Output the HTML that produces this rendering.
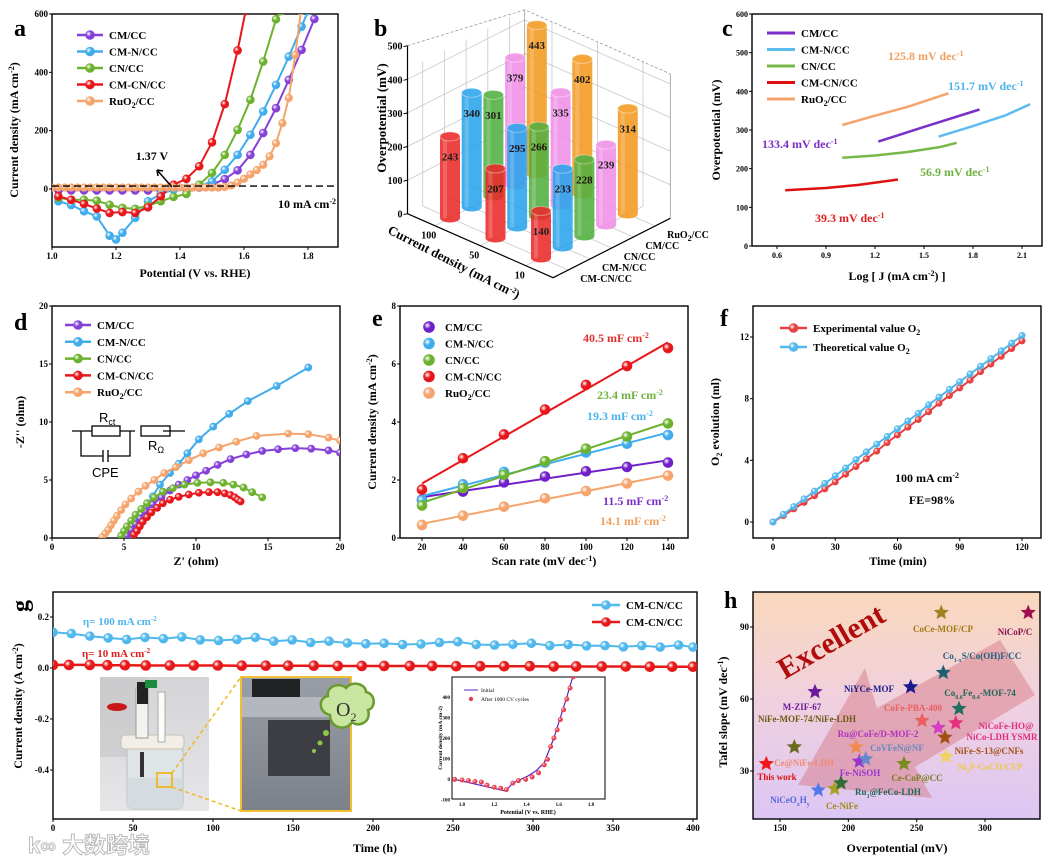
<!DOCTYPE html>
<html><head><meta charset="utf-8"><style>
html,body{margin:0;padding:0;background:#fff;}
svg{display:block;font-family:"Liberation Serif","Noto Serif CJK SC",serif;font-weight:bold;}
</style></head><body>
<svg id="fig" width="1055" height="859" viewBox="0 0 1055 859">
<defs>
<linearGradient id="hbg" x1="0" y1="0" x2="0" y2="1"><stop offset="0" stop-color="#f9d8bc"/><stop offset="0.5" stop-color="#f0d0e0"/><stop offset="1" stop-color="#dcc6f4"/></linearGradient>
<linearGradient id="ph1" x1="0" y1="0" x2="0" y2="1"><stop offset="0" stop-color="#d4d4d6"/><stop offset="1" stop-color="#e6e6e8"/></linearGradient>
<linearGradient id="ph2" x1="0" y1="0" x2="0" y2="1"><stop offset="0" stop-color="#9a9ea6"/><stop offset="1" stop-color="#7c8088"/></linearGradient>
<clipPath id="clipA"><rect x="52" y="14" width="286" height="233"/></clipPath>
<clipPath id="clipD"><rect x="52" y="306" width="288" height="232"/></clipPath>
<clipPath id="clipG"><rect x="53" y="592" width="644" height="227"/></clipPath>
<clipPath id="clipI"><rect x="452" y="677" width="153" height="122"/></clipPath>
</defs>

<text x="14" y="36" font-size="24">a</text>
<text x="374" y="36" font-size="24">b</text>
<text x="722" y="36" font-size="24">c</text>
<text x="14" y="330" font-size="24">d</text>
<text x="372" y="326" font-size="24">e</text>
<text x="720" y="326" font-size="24">f</text>
<text x="0" y="0" font-size="24" transform="translate(28,612) rotate(-90)">g</text>
<text x="724" y="608" font-size="24">h</text>

<text x="195" y="277" font-size="12" text-anchor="middle">Potential (V vs. RHE)</text>
<text transform="translate(18,130) rotate(-90)" font-size="12" text-anchor="middle">Current density (mA cm<tspan dy="-4" font-size="8">-2</tspan><tspan dy="4">)</tspan></text>
<text transform="translate(386,118) rotate(-90)" font-size="13" text-anchor="middle">Overpotential (mV)</text>
<text transform="translate(452,266) rotate(27)" font-size="13" text-anchor="middle">Current density (mA cm<tspan dy="-4" font-size="8">-2</tspan><tspan dy="4">)</tspan></text>
<text x="897" y="280" font-size="12" text-anchor="middle">Log [ J (mA cm<tspan dy="-4" font-size="8">-2</tspan><tspan dy="4">) ]</tspan></text>
<text transform="translate(720,130) rotate(-90)" font-size="12" text-anchor="middle">Overpotential (mV)</text>
<text x="196" y="565" font-size="12" text-anchor="middle">Z' (ohm)</text>
<text transform="translate(24,422) rotate(-90)" font-size="12" text-anchor="middle">-Z'' (ohm)</text>
<text x="544" y="565" font-size="12" text-anchor="middle">Scan rate (mV dec<tspan dy="-4" font-size="8">-1</tspan><tspan dy="4">)</tspan></text>
<text transform="translate(376,422) rotate(-90)" font-size="12" text-anchor="middle">Current density (mA cm<tspan dy="-4" font-size="8">-2</tspan><tspan dy="4">)</tspan></text>
<text x="898" y="565" font-size="12" text-anchor="middle">Time (min)</text>
<text transform="translate(719,422) rotate(-90)" font-size="12" text-anchor="middle">O<tspan dy="3" font-size="8">2</tspan><tspan dy="-3"> evolution (ml)</tspan></text>
<text x="375" y="852" font-size="12" text-anchor="middle">Time (h)</text>
<text transform="translate(22,706) rotate(-90)" font-size="12" text-anchor="middle">Current density (A cm<tspan dy="-4" font-size="8">-2</tspan><tspan dy="4">)</tspan></text>
<text x="897" y="852" font-size="12" text-anchor="middle">Overpotential (mV)</text>
<text transform="translate(727,712) rotate(-90)" font-size="12" text-anchor="middle">Tafel slope (mV dec<tspan dy="-4" font-size="8">-1</tspan><tspan dy="4">)</tspan></text>

<text x="152" y="160" font-size="12" text-anchor="middle">1.37 V</text>
<text x="336" y="208" font-size="12" text-anchor="end">10 mA cm<tspan dy="-4" font-size="8">-2</tspan></text>
<text x="888" y="60" font-size="12" fill="#f0a060">125.8 mV dec<tspan dy="-4" font-size="8">-1</tspan></text>
<text x="948" y="90" font-size="12" fill="#4cb4ec">151.7 mV dec<tspan dy="-4" font-size="8">-1</tspan></text>
<text x="762" y="148" font-size="12" fill="#7b2fc8">133.4 mV dec<tspan dy="-4" font-size="8">-1</tspan></text>
<text x="920" y="176" font-size="12" fill="#70b040">56.9 mV dec<tspan dy="-4" font-size="8">-1</tspan></text>
<text x="815" y="222" font-size="12" fill="#e02020">39.3 mV dec<tspan dy="-4" font-size="8">-1</tspan></text>
<text x="583" y="342" font-size="12" fill="#e03030">40.5 mF cm<tspan dy="-4" font-size="8">-2</tspan></text>
<text x="597" y="399" font-size="12" fill="#70b040">23.4 mF cm<tspan dy="-4" font-size="8">-2</tspan></text>
<text x="587" y="420" font-size="12" fill="#4cb4ec">19.3 mF cm<tspan dy="-4" font-size="8">-2</tspan></text>
<text x="603" y="505" font-size="12" fill="#7b2fc8">11.5 mF cm<tspan dy="-4" font-size="8">-2</tspan></text>
<text x="600" y="525" font-size="12" fill="#f0a060">14.1 mF cm<tspan dy="-4" font-size="8">-2</tspan></text>
<text x="927" y="482" font-size="12" text-anchor="middle">100 mA cm<tspan dy="-4" font-size="8">-2</tspan></text>
<text x="932" y="504" font-size="12" text-anchor="middle">FE=98%</text>
<text x="83" y="625" font-size="11" fill="#50b4ec">η= 100 mA cm<tspan dy="-4" font-size="7">-2</tspan></text>
<text x="82" y="657" font-size="11" fill="#e02020">η= 10 mA cm<tspan dy="-4" font-size="7">-2</tspan></text>

<g stroke="#000" stroke-width="1.3" fill="none">
<path d="M72,431 H92 M120,431 H135 M163,431 H185 M81,431 V456 H103 M108,456 H130 V431"/>
<rect x="92" y="426" width="28" height="10"/><rect x="141" y="426" width="29" height="10"/>
<path d="M103,450 V462 M108,450 V462"/>
</g>
<text x="99" y="422" font-family="Liberation Sans, sans-serif" font-size="13" font-weight="normal">R<tspan dy="3" font-size="9">ct</tspan></text>
<text x="148" y="450" font-family="Liberation Sans, sans-serif" font-size="13" font-weight="normal">R<tspan dy="3" font-size="9">Ω</tspan></text>
<text x="92" y="477" font-family="Liberation Sans, sans-serif" font-size="13" font-weight="normal">CPE</text>

<g id="root"></g>

<text x="28" y="853" font-size="22" fill="#fff" stroke="#bbb" stroke-width="1" font-family="Liberation Sans, Noto Sans CJK SC, sans-serif">k∞ 大数跨境</text>
</svg>
<script>
const aCMx=[1.02,1.06,1.10,1.14,1.18,1.22,1.26,1.30,1.34,1.38,1.42,1.46,1.50,1.54,1.58,1.62,1.66,1.70,1.74,1.78,1.82];
const aCMy=[-5,-5,-5,-5,-5,-5,-5,-5,-4,-2,0,5,15,34,64,117,192,277,374,477,583];
const aCMNx=[1.02,1.06,1.10,1.14,1.18,1.20,1.22,1.26,1.30,1.34,1.38,1.42,1.46,1.50,1.54,1.58,1.62,1.66,1.70,1.74,1.78,1.80];
const aCMNy=[-42,-55,-76,-94,-160,-173,-150,-99,-42,-17,-2,5,10,26,66,117,186,266,357,454,557,610];
const aCNx=[1.02,1.06,1.10,1.14,1.18,1.22,1.26,1.30,1.34,1.38,1.42,1.46,1.50,1.54,1.58,1.62,1.66,1.70,1.715];
const aCNy=[-30,-37,-37,-40,-54,-65,-68,-57,-42,-27,-17,15,55,117,203,306,437,582,610];
const aCMCNx=[1.02,1.06,1.10,1.14,1.18,1.22,1.26,1.30,1.34,1.38,1.42,1.46,1.50,1.54,1.58,1.605];
const aCMCNy=[-25,-37,-51,-67,-82,-79,-82,-63,-25,15,35,78,160,291,475,610];
const aRUx=[1.00,1.02,1.04,1.06,1.08,1.10,1.12,1.14,1.16,1.18,1.20,1.22,1.24,1.26,1.28,1.30,1.32,1.34,1.36,1.38,1.40,1.42,1.44,1.46,1.48,1.50,1.52,1.54,1.56,1.58,1.60,1.62,1.64,1.66,1.68,1.70,1.72,1.74,1.76,1.778];
const aRUy=[5,5,5,5,5,5,5,5,5,5,5,5,5,5,5,5,5,5,5,5,5,5,5,5,5,5,5,7,12,22,35,50,65,83,112,157,226,312,460,610];
const aXticks=[1.0,1.2,1.4,1.6,1.8]; const aXlabels=['1.0','1.2','1.4','1.6','1.8'];
const aYticks=[0,200,400,600]; const aYlabels=['0','200','400','600'];
const aRef=[10];
const bCur=['100','50','10'];
const bMat=['CM-CN/CC','CM-N/CC','CN/CC','CM/CC','RuO2/CC'];
const bVals100=[243,340,301,379,443];
const bVals50=[207,295,266,335,402];
const bVals10=[140,233,228,239,314];
const bZticks=[0,100,200,300,400,500];
const cRUx=[1.0,1.2,1.4,1.65], cRUy=[313,337,360,395];
const cCMx=[1.22,1.5,1.84], cCMy=[270,308,353];
const cCMNx=[1.59,1.8,2.0,2.15], cCMNy=[283,310,338,367];
const cCNx=[1.0,1.2,1.4,1.6,1.7], cCNy=[228,234,243,256,267];
const cCMCNx=[0.65,0.9,1.1,1.34], cCMCNy=[144,150,158,172];
const cXticks=[0.6,0.9,1.2,1.5,1.8,2.1]; const cXlabels=['0.6','0.9','1.2','1.5','1.8','2.1'];
const cYticks=[0,100,200,300,400,500,600]; const cYlabels=['0','100','200','300','400','500','600'];
const dCMNx=[5.5,6.0,6.5,7.0,7.5,8.2,8.8,9.4,10.2,11.2,12.3,13.6,15.6,17.8];
const dCMNy=[0.3,1.5,2.6,3.6,4.6,5.6,6.4,7.3,8.5,9.6,10.7,11.8,13.1,14.7];
const dRUx=[3.5,3.7,3.9,4.1,4.3,4.5,4.8,5.1,5.5,6.0,6.5,7.1,7.8,8.6,9.5,10.5,11.6,12.8,14.2,16.4,17.8,19.2,20];
const dRUy=[0.1,0.4,0.7,1.1,1.5,1.9,2.4,2.9,3.4,4.0,4.5,5.0,5.6,6.1,6.7,7.3,7.8,8.3,8.8,9.0,8.95,8.65,8.4];
const dCMx=[5.2,5.5,5.8,6.1,6.5,7.0,7.6,8.2,8.8,9.4,10.0,10.7,11.5,12.4,13.5,14.6,15.7,16.9,18.0,19.2,20];
const dCMy=[0.2,0.7,1.2,1.7,2.3,2.9,3.5,4.1,4.6,5.0,5.4,5.8,6.3,6.8,7.2,7.5,7.65,7.75,7.7,7.55,7.35];
const dCNx=[4.8,5.0,5.2,5.5,5.8,6.2,6.6,7.1,7.7,8.4,9.2,10.1,11.0,11.9,12.6,13.3,13.9,14.6];
const dCNy=[0.2,0.6,1.0,1.5,2.0,2.5,3.0,3.5,4.0,4.3,4.6,4.75,4.8,4.75,4.6,4.35,3.95,3.5];
const dCMCNx=[5.7,5.9,6.1,6.3,6.6,6.9,7.3,7.7,8.2,8.8,9.5,10.2,10.9,11.5,12.0,12.4,12.7,12.9,13.1];
const dCMCNy=[0.3,0.6,1.0,1.4,1.8,2.2,2.6,3.0,3.3,3.55,3.75,3.9,3.95,3.95,3.85,3.7,3.5,3.3,3.15];
const dTicks=[0,5,10,15,20]; const dLabels=['0','5','10','15','20'];
const eRate=[20,40,60,80,100,120,140];
const eCM=[1.32,1.6,1.92,2.12,2.3,2.45,2.6];
const eCMN=[1.3,1.85,2.28,2.6,2.95,3.25,3.55];
const eCN=[1.12,1.72,2.18,2.65,3.08,3.5,3.95];
const eCMCN=[1.67,2.75,3.57,4.43,5.28,5.93,6.55];
const eRU=[0.45,0.77,1.08,1.37,1.62,1.88,2.15];
const eXticks=[20,40,60,80,100,120,140]; const eYticks=[0,2,4,6,8];
const fTime=[0,5,10,15,20,25,30,35,40,45,50,55,60,65,70,75,80,85,90,95,100,105,110,115,120];
const fExp=[0,0.42,0.85,1.27,1.7,2.15,2.6,3.1,3.6,4.1,4.6,5.15,5.65,6.15,6.65,7.15,7.7,8.2,8.7,9.2,9.75,10.25,10.75,11.25,11.75];
const fTheo=[0,0.5,1.0,1.5,2.0,2.5,3.0,3.5,4.05,4.55,5.05,5.55,6.05,6.55,7.05,7.6,8.1,8.6,9.1,9.6,10.1,10.6,11.1,11.6,12.1];
const fXticks=[0,30,60,90,120]; const fYticks=[0,4,8,12];
const gBlueT=[0,11.5,23,34.5,46,57.5,69,80.5,92,103.5,115,126.5,138,149.5,161,172.5,184,195.5,207,218.5,230,241.5,253,264.5,276,287.5,299,310.5,322,333.5,345,356.5,368,379.5,391,400];
const gBlueV=[0.14,0.135,0.125,0.118,0.112,0.12,0.115,0.122,0.11,0.108,0.112,0.12,0.105,0.11,0.1,0.105,0.098,0.095,0.097,0.092,0.094,0.1,0.103,0.092,0.09,0.093,0.097,0.088,0.092,0.087,0.088,0.083,0.088,0.082,0.09,0.082];
const gRedT=[0,10,23,34,45,58,73,88,103,118,133,147,163,178,193,207,223,237,252,267,282,298,313,327,343,358,373,387,400];
const gRedV=[0.012,0.012,0.012,0.011,0.011,0.01,0.01,0.01,0.01,0.009,0.009,0.009,0.009,0.008,0.008,0.008,0.008,0.008,0.007,0.007,0.007,0.007,0.006,0.006,0.006,0.006,0.005,0.005,0.005];
const gXticks=[0,50,100,150,200,250,300,350,400];
const gYticks=[0.2,0.0,-0.2,-0.4]; const gYlabels=['0.2','0.0','-0.2','-0.4'];
const iLineX=[0.955,1.27,1.315,1.41,1.46,1.51,1.57,1.65,1.71];
const iLineY=[-2,-58,-20,15,40,80,200,400,560];
const iDotX=[0.955,1.0,1.04,1.08,1.12,1.155,1.2,1.24,1.275,1.315,1.35,1.395,1.435,1.475,1.51,1.53,1.55,1.57,1.59,1.61,1.63,1.65,1.67,1.69];
const iDotY=[-2,-5,-8,-12,-15,-30,-40,-45,-52,-20,-8,-2,10,30,69,96,158,200,240,290,338,390,444,498];
const iXticks=[1.0,1.2,1.4,1.6,1.8]; const iYticks=[-100,0,100,200,300,400];
const hNames=['This work','Ce@NiFe-LDH','NiCeOxHy','Ce-NiFe','Ru1@FeCo-LDH','M-ZIF-67','Fe-NiSOH','CoVFeN@NF','Ru@CoFe/D-MOF-2','NiYCe-MOF','Ce-CoP@CC','CoCe-MOF/CP','Co1-xS/Co(OH)F/CC','CoFe-PBA-400','NiFe-MOF-74/NiFe-LDH','NiCoFe-HO@NiCo-LDH YSMR','Co0.6Fe0.4-MOF-74','NiFe-S-13@CNFs','Ni2P-CoCH/CFP','NiCoP/C'];
const hEta=[140,160.5,178,190,194.6,175.6,208,212.7,205.6,245.6,240.7,268,269.5,254,265.8,278.6,281,270.7,271.5,331.6];
const hTafel=[33,40,22,22.6,25,63,34,35,40,65,33,96,71,51,48,50,56,44,36,96];
const hXticks=[150,200,250,300]; const hYticks=[30,60,90];

const NS='http://www.w3.org/2000/svg';
const root=document.getElementById('root');
const defs=document.querySelector('defs');
function mk(tag,attrs,parent){const e=document.createElementNS(NS,tag);for(const k in attrs)e.setAttribute(k,attrs[k]);(parent||root).appendChild(e);return e;}
function lin(d0,d1,p0,p1){return v=>p0+(v-d0)*(p1-p0)/(d1-d0);}
const grads={};
function grad(c){if(grads[c])return grads[c];const id='g'+c.replace('#','');const g=mk('radialGradient',{id:id,cx:'0.35',cy:'0.35',r:'0.7'},defs);mk('stop',{offset:'0','stop-color':'#ffffff'},g);mk('stop',{offset:'0.45','stop-color':c},g);mk('stop',{offset:'1','stop-color':c},g);grads[c]='url(#'+id+')';return grads[c];}
function frame(name,x0,y0,x1,y1){const r=mk('rect',{x:x0,y:y0,width:x1-x0,height:y1-y0,fill:'none',stroke:'#000','stroke-width':1.4});

}
function xTicks(name,sx,ticks,labels,yb,fs){for(let i=0;i<ticks.length;i++){const x=sx(ticks[i]);mk('line',{x1:x,y1:yb,x2:x,y2:yb+3,stroke:'#000','stroke-width':1});const t=mk('text',{x:x,y:yb+12,'font-size':fs||9,'text-anchor':'middle'});t.textContent=labels[i];

}}
function yTicks(name,sy,ticks,labels,xl,fs){for(let i=0;i<ticks.length;i++){const y=sy(ticks[i]);mk('line',{x1:xl,y1:y,x2:xl-3,y2:y,stroke:'#000','stroke-width':1});const t=mk('text',{x:xl-4,y:y+3,'font-size':fs||9,'text-anchor':'end'});t.textContent=labels[i];

}}
function series(name,xs,ys,sx,sy,color,r,clip,markers,lw){const g=mk('g',clip?{'clip-path':'url(#'+clip+')'}:{});


const pts=xs.map((x,i)=>sx(x).toFixed(1)+','+sy(ys[i]).toFixed(1)).join(' ');
if(lw!==0)mk('polyline',{points:pts,fill:'none',stroke:color,'stroke-width':lw||2,'stroke-linejoin':'round'},g);
if(markers!==false){for(let i=0;i<xs.length;i++){const c=mk('circle',{cx:sx(xs[i]),cy:sy(ys[i]),r:r,fill:grad(color),stroke:color,'stroke-width':0.6},g);

}}
return g;}
function legend(name,x,y,color,label,kind,len){const g=mk('g',{});


if(kind!=='dot')mk('line',{x1:x,y1:y,x2:x+len,y2:y,stroke:color,'stroke-width':kind==='line'?3:2.5},g);
if(kind!=='line')mk('circle',{cx:kind==='dot'?x:x+len/2,cy:y,r:kind==='dot'?5.5:4.5,fill:grad(color),stroke:color,'stroke-width':0.6},g);
const t=mk('text',{x:x+len+6,y:y+4,'font-size':11},g);t.innerHTML=label;return g;}
const C={cm:'#8440d8',cmn:'#40acec',cn:'#6cb22e',cmcn:'#e8161b',ru:'#f4a46c'};
const RUL='RuO<tspan dy="3" font-size="8">2</tspan><tspan dy="-3">/CC</tspan>';

{const sx=lin(1.0,1.8,52,308), sy=lin(0,600,189,14);
frame('panel-a-frame',52,14,338,247);
xTicks('a-x',sx,aXticks,aXlabels,247);yTicks('a-y',sy,aYticks,aYlabels,52);
series('a-cm-cc',aCMx,aCMy,sx,sy,C.cm,4,'clipA');
series('a-cm-n-cc',aCMNx,aCMNy,sx,sy,C.cmn,4,'clipA');
series('a-cn-cc',aCNx,aCNy,sx,sy,C.cn,4,'clipA');
series('a-cm-cn-cc',aCMCNx,aCMCNy,sx,sy,C.cmcn,4,'clipA');
series('a-ruo2-cc',aRUx,aRUy,sx,sy,C.ru,3.8,'clipA');
const ref=mk('line',{x1:52,x2:338,y1:sy(aRef[0]),y2:sy(aRef[0]),stroke:'#000','stroke-width':1.3,'stroke-dasharray':'7,4'});


const ar=mk('path',{d:'M172,187 L157,170 M157,170 l1,6 M157,170 l6,1',stroke:'#000','stroke-width':1.5,fill:'none'});


const L=[['CM/CC',C.cm],['CM-N/CC',C.cmn],['CN/CC',C.cn],['CM-CN/CC',C.cmcn],[RUL,C.ru]];
L.forEach((l,i)=>legend('a-legend-entry',77,35+i*16.5,l[1],l[0],'both',26));}

{const P=(i,j,w)=>[450+i*21.7+j*45.5, 218-i*11+j*20-w*0.336];
const A=P(-0.7,-0.6,0),B=P(-0.7,2.6,0),Cc=P(4.7,2.6,0),D=P(4.7,-0.6,0);
const g=mk('g',{stroke:'#c8c8c8','stroke-width':0.8,fill:'none'});


const wTop=430;
for(const w of [100,200,300,400]){const a=P(-0.7,-0.6,w),d=P(4.7,-0.6,w),c=P(4.7,2.6,w);mk('polyline',{points:`${a} ${d} ${c}`},g);}
for(let i=0;i<=4;i++){const a=P(i,-0.6,0),b=P(i,-0.6,wTop),f=P(i,2.6,0);mk('polyline',{points:`${f} ${a} ${b}`},g);}
for(let j=0;j<=2;j++){const a=P(4.7,j,0),b=P(4.7,j,wTop),f=P(-0.7,j,0);mk('polyline',{points:`${f} ${a} ${b}`},g);}
const T=P(-0.7,-0.6,500),TD=P(4.7,-0.6,wTop),TC=P(4.7,2.6,wTop);
mk('polyline',{points:`${T} ${TD} ${TC}`,'stroke-dasharray':'3,2',stroke:'#999'},g);
mk('line',{x1:D[0],y1:D[1],x2:TD[0],y2:TD[1],stroke:'#999'},g);
mk('line',{x1:Cc[0],y1:Cc[1],x2:TC[0],y2:TC[1],stroke:'#999'},g);
const ax=mk('polyline',{points:`${P(-0.7,-0.6,500)} ${A} ${B} ${Cc}`,fill:'none',stroke:'#000','stroke-width':1.2});


bZticks.forEach(w=>{const p=P(-0.7,-0.6,w);mk('line',{x1:p[0],y1:p[1],x2:p[0]-4,y2:p[1]+1,stroke:'#000'});const t=mk('text',{x:p[0]-5,y:p[1]+4,'font-size':10,'text-anchor':'end'});t.textContent=w;

});
bCur.forEach((c,j)=>{const p=P(-0.7,j,0);const t=mk('text',{x:p[0]-6,y:p[1]+13,'font-size':10,'text-anchor':'middle'});t.textContent=c;

});
bMat.forEach((m,i)=>{const p=P(i,2.6,0);const t=mk('text',{x:p[0]+12,y:p[1]+12,'font-size':10});t.innerHTML=m==='RuO2/CC'?RUL:m;

});
const cols=['#ec2a2a','#2aa4ec','#52b040','#f090e8','#f49a20'];
const rows=[bVals100,bVals50,bVals10];
rows.forEach((vals,j)=>{for(let i=4;i>=0;i--){const v=vals[i];const base=P(i,j,0),top=P(i,j,v);const rx=10,ry=4.5;const cg=mk('g',{opacity:0.88});


mk('path',{d:`M${base[0]-rx},${top[1]} V${base[1]} A${rx},${ry} 0 0 0 ${base[0]+rx},${base[1]} V${top[1]} Z`,fill:cols[i]},cg);
mk('rect',{x:base[0]-rx+3,y:top[1],width:4,height:base[1]-top[1],fill:'#fff',opacity:0.18},cg);
mk('ellipse',{cx:top[0],cy:top[1],rx:rx,ry:ry,fill:cols[i],stroke:'#fff','stroke-opacity':0.4},cg);
const t=mk('text',{x:top[0],y:top[1]+24,'font-size':11,'text-anchor':'middle',fill:'#000'},cg);t.textContent=v;}});}

{const sx=lin(0.6,2.1,777,1022), sy=lin(0,600,246,14);
frame('panel-c-frame',752,14,1042,246);
xTicks('c-x',sx,cXticks,cXlabels,246,8);yTicks('c-y',sy,cYticks,cYlabels,752,8);
series('c-ruo2-cc',cRUx,cRUy,sx,sy,C.ru,0,null,false,2.5);
series('c-cm-cc',cCMx,cCMy,sx,sy,'#7b2fc8',0,null,false,2.5);
series('c-cm-n-cc',cCMNx,cCMNy,sx,sy,'#5cbcf0',0,null,false,2.5);
series('c-cn-cc',cCNx,cCNy,sx,sy,'#78b84a',0,null,false,2.5);
series('c-cm-cn-cc',cCMCNx,cCMCNy,sx,sy,'#e01010',0,null,false,2.5);
const L=[['CM/CC','#7b2fc8'],['CM-N/CC','#5cbcf0'],['CN/CC','#78b84a'],['CM-CN/CC','#e01010'],[RUL,C.ru]];
L.forEach((l,i)=>legend('c-legend-entry',767,33+i*16.5,l[1],l[0],'line',28));}

{const sx=lin(0,20,52,340), sy=lin(0,20,538,306);
frame('panel-d-frame',52,306,340,538);
xTicks('d-x',sx,dTicks,dLabels,538);yTicks('d-y',sy,dTicks,dLabels,52);
series('d-cm-n-cc',dCMNx,dCMNy,sx,sy,C.cmn,3.6,'clipD');
series('d-ruo2-cc',dRUx,dRUy,sx,sy,C.ru,3.6,'clipD');
series('d-cm-cc',dCMx,dCMy,sx,sy,C.cm,3.6,'clipD');
series('d-cn-cc',dCNx,dCNy,sx,sy,C.cn,3.6,'clipD');
series('d-cm-cn-cc',dCMCNx,dCMCNy,sx,sy,C.cmcn,3.6,'clipD');
const L=[['CM/CC',C.cm],['CM-N/CC',C.cmn],['CN/CC',C.cn],['CM-CN/CC',C.cmcn],[RUL,C.ru]];
L.forEach((l,i)=>legend('d-legend-entry',65,325+i*16.8,l[1],l[0],'both',26));}

{const sx=lin(20,140,422,668), sy=lin(0,8,538,306);
frame('panel-e-frame',400,306,688,538);
xTicks('e-x',sx,eXticks,eXticks.map(String),538);yTicks('e-y',sy,eYticks,eYticks.map(String),400);
const fit=(ys)=>{const n=eRate.length;const mx=eRate.reduce((a,b)=>a+b)/n,my=ys.reduce((a,b)=>a+b)/n;let sxy=0,sxx=0;for(let i=0;i<n;i++){sxy+=(eRate[i]-mx)*(ys[i]-my);sxx+=(eRate[i]-mx)**2;}const k=sxy/sxx;return [my+k*(20-mx),my+k*(140-mx)];};
const S=[['e-cm-cc',eCM,'#7020c8'],['e-cm-n-cc',eCMN,C.cmn],['e-cn-cc',eCN,C.cn],['e-cm-cn-cc',eCMCN,C.cmcn],['e-ruo2-cc',eRU,C.ru]];
S.forEach(s=>{const f=fit(s[1]);const l=mk('line',{x1:sx(20),y1:sy(f[0]),x2:sx(140),y2:sy(f[1]),stroke:s[2],'stroke-width':2});


series(s[0],eRate,s[1],sx,sy,s[2],5,null,true,0);});
const L=[['CM/CC','#7020c8'],['CM-N/CC',C.cmn],['CN/CC',C.cn],['CM-CN/CC',C.cmcn],[RUL,C.ru]];
L.forEach((l,i)=>legend('e-legend-entry',429,327+i*16.5,l[1],l[0],'dot',10));}

{const sx=lin(0,120,773,1022), sy=lin(0,12,522,337);
frame('panel-f-frame',753,306,1041,538);
xTicks('f-x',sx,fXticks,fXticks.map(String),538);yTicks('f-y',sy,fYticks,fYticks.map(String),753);
series('f-experimental',fTime,fExp,sx,sy,'#e84040',3.2);
series('f-theoretical',fTime,fTheo,sx,sy,'#50b8ec',3.2);
legend('f-legend-experimental',780,328,'#e84040','Experimental value O<tspan dy="3" font-size="8">2</tspan>','both',27);
legend('f-legend-theoretical',780,347,'#50b8ec','Theoretical value O<tspan dy="3" font-size="8">2</tspan>','both',27);}

{const sx=lin(0,400,53,693), sy=lin(0,0.2,668,617);
frame('panel-g-frame',53,592,697,819);
xTicks('g-x',sx,gXticks,gXticks.map(String),819);yTicks('g-y',sy,gYticks,gYlabels,53);
series('g-cm-cn-cc-100',gBlueT,gBlueV,sx,sy,'#50b8ec',4.5,'clipG');
series('g-cm-cn-cc-10',gRedT,gRedV,sx,sy,'#e81818',5,'clipG',true,2.5);
legend('g-legend-100',592,605,'#50b8ec','CM-CN/CC','both',28);
legend('g-legend-10',592,622,'#e81818','CM-CN/CC','both',28);
const p1=mk('g',{});


mk('rect',{x:100,y:677,width:109,height:134,fill:'url(#ph1)'},p1);
mk('rect',{x:100,y:677,width:45,height:80,fill:'#c4c4c6',opacity:0.6},p1);
mk('rect',{x:127,y:745,width:56,height:64,rx:6,fill:'#dfe4e6',stroke:'#b8bec2'},p1);
mk('rect',{x:127,y:778,width:56,height:31,fill:'#cfd8dc',opacity:0.7},p1);
mk('rect',{x:121,y:735,width:63,height:14,rx:4,fill:'#f2eee6',stroke:'#c8c0b4'},p1);
mk('rect',{x:136,y:688,width:12,height:50,fill:'#f4f2ee',stroke:'#999'},p1);
mk('rect',{x:137,y:682,width:11,height:22,fill:'#222'},p1);
mk('rect',{x:158,y:692,width:7,height:50,fill:'#fbfbf8',stroke:'#aaa'},p1);
mk('rect',{x:145,y:680,width:12,height:8,fill:'#1c8c40'},p1);
mk('ellipse',{cx:117,cy:707,rx:10,ry:4,fill:'#c81818'},p1);
mk('rect',{x:140,y:752,width:4,height:25,fill:'#333'},p1);
mk('rect',{x:157,y:773,width:15,height:14,fill:'none',stroke:'#f0b820','stroke-width':1.8},p1);
mk('path',{d:'M172,773 L241,677 M172,787 L241,811',stroke:'#f0b820','stroke-width':1.5,'stroke-dasharray':'4,3',fill:'none'},p1);
const p2=mk('g',{});


mk('rect',{x:241,y:677,width:110,height:134,fill:'url(#ph2)',stroke:'#f0c030','stroke-width':2},p2);
mk('rect',{x:252,y:679,width:48,height:18,fill:'#202226'},p2);
mk('rect',{x:242,y:697,width:108,height:20,fill:'#b4b8be'},p2);
mk('rect',{x:268,y:720,width:62,height:56,fill:'#3c3e44'},p2);
mk('circle',{cx:326,cy:733,r:3,fill:'#90c848'},p2);
mk('circle',{cx:320,cy:743,r:2.5,fill:'#90c848'},p2);
mk('circle',{cx:314,cy:751,r:2,fill:'#90c848'},p2);
const cl=mk('g',{});


mk('path',{d:'M330,715 C318,712 318,698 328,696 C326,686 340,682 346,688 C352,680 366,684 366,692 C376,694 376,708 368,710 C372,722 358,728 352,722 C346,732 330,728 330,715 Z',fill:'#c8e6a0',stroke:'#6a9a30','stroke-width':2.5},cl);
const o=mk('text',{x:336,y:716,'font-size':20,'font-weight':'normal',fill:'#333'},cl);o.innerHTML='O<tspan dy="5" font-size="12">2</tspan>';
const ix=lin(1.0,1.8,462,591), iy=lin(0,400,779,697);
mk('rect',{x:452,y:677,width:153,height:122,fill:'#fff',stroke:'#000','stroke-width':1});
iXticks.forEach(v=>{const t=mk('text',{x:ix(v),y:806,'font-size':5,'text-anchor':'middle'});t.textContent=v.toFixed(1);

});
iYticks.forEach(v=>{const t=mk('text',{x:450,y:iy(v)+2,'font-size':5,'text-anchor':'end'});t.textContent=v;

});
series('inset-initial',iLineX,iLineY,ix,iy,'#6020c0',0,'clipI',false,1.2);
series('inset-after-cycles',iDotX,iDotY,ix,iy,'#e84050',2.2,'clipI',true,0);
const it=mk('text',{x:528,y:814,'font-size':6,'text-anchor':'middle'});it.textContent='Potential (V vs. RHE)';


const iyt=mk('text',{transform:'translate(442,738) rotate(-90)','font-size':5.5,'text-anchor':'middle'});iyt.textContent='Current density (mA cm-2)';


mk('line',{x1:464,y1:690,x2:478,y2:690,stroke:'#6020c0','stroke-width':1});
mk('circle',{cx:471,cy:699,r:2.2,fill:'#e84050'});
const l1=mk('text',{x:481,y:692,'font-size':5.5,'font-weight':'normal'});l1.textContent='Initial';


const l2=mk('text',{x:481,y:701,'font-size':5.5,'font-weight':'normal'});l2.textContent='After 1000 CV cycles';

}

{const sx=lin(150,300,780,985), sy=lin(30,90,771,627);
const bg=mk('rect',{x:753,y:592,width:287,height:227,fill:'url(#hbg)'});


const ar=mk('polygon',{points:'1000,640 1035,695 915,767 932,798 798,785 865,668 877,708',fill:'#d87c88',opacity:0.5});


const ex=mk('text',{transform:'translate(836,650) rotate(-30)','font-size':30,fill:'#b00c0c','text-anchor':'middle'});ex.textContent='Excellent';


frame('panel-h-frame',753,592,1040,819);
xTicks('h-x',sx,hXticks,hXticks.map(String),819);yTicks('h-y',sy,hYticks,hYticks.map(String),753);
const hCol=['#f01818','#6b6b1f','#5577ee','#a8a020','#2d6e3a','#6a1b9a','#9933cc','#6688cc','#f08a50','#1a1a8c','#7a8a20','#a08020','#1f6070','#e86060','#d040c0','#e83080','#207060','#a05010','#f0d060','#a01050'];
const star=(cx,cy,r)=>{let d='';for(let k=0;k<10;k++){const a=-Math.PI/2+k*Math.PI/5;const rr=k%2?r*0.45:r;d+=(k?'L':'M')+(cx+rr*Math.cos(a)).toFixed(1)+','+(cy+rr*Math.sin(a)).toFixed(1);}return d+'Z';};
hEta.forEach((e,i)=>{const s=mk('path',{d:star(sx(e),sy(hTafel[i]),8),fill:hCol[i]});

});
const labs=[['CoCe-MOF/CP',943,632,'#a07a10'],['NiCoP/C',1015,635,'#8a1050'],['Co<tspan dy="3" font-size="6">1-x</tspan><tspan dy="-3">S/Co(OH)F/CC</tspan>',982,659,'#1f5f80'],['NiYCe-MOF',869,692,'#1a1a8c'],['Co<tspan dy="3" font-size="6">0.6</tspan><tspan dy="-3">Fe</tspan><tspan dy="3" font-size="6">0.4</tspan><tspan dy="-3">-MOF-74</tspan>',980,696,'#206858'],['M-ZIF-67',802,710,'#6a1b9a'],['CoFe-PBA-400',913,711,'#e86060'],['NiFe-MOF-74/NiFe-LDH',807,722,'#6b5a10'],['NiCoFe-HO@',1006,729,'#e0307a'],['Ru@CoFe/D-MOF-2',878,737,'#b030c0'],['NiCo-LDH YSMR',1002,740,'#e0307a'],['CoVFeN@NF',897,751,'#6688bb'],['NiFe-S-13@CNFs',989,754,'#a05010'],['Ce@NiFe-LDH',804,766,'#f08a70'],['Fe-NiSOH',860,776,'#9933cc'],['Ni<tspan dy="3" font-size="6">2</tspan><tspan dy="-3">P-CoCH/CFP</tspan>',990,770,'#f0c850'],['This work',777,780,'#e01010'],['Ce-CoP@CC',917,781,'#7a7a18'],['Ru<tspan dy="3" font-size="6">1</tspan><tspan dy="-3">@FeCo-LDH</tspan>',888,795,'#206858'],['NiCeO<tspan dy="3" font-size="6">x</tspan><tspan dy="-3">H</tspan><tspan dy="3" font-size="6">y</tspan>',790,803,'#5566dd'],['Ce-NiFe',842,809,'#a08a10']];
labs.forEach(l=>{const t=mk('text',{x:l[1],y:l[2],'font-size':9,'text-anchor':'middle',fill:l[3]});t.innerHTML=l[0];

});}
</script>
</body></html>
